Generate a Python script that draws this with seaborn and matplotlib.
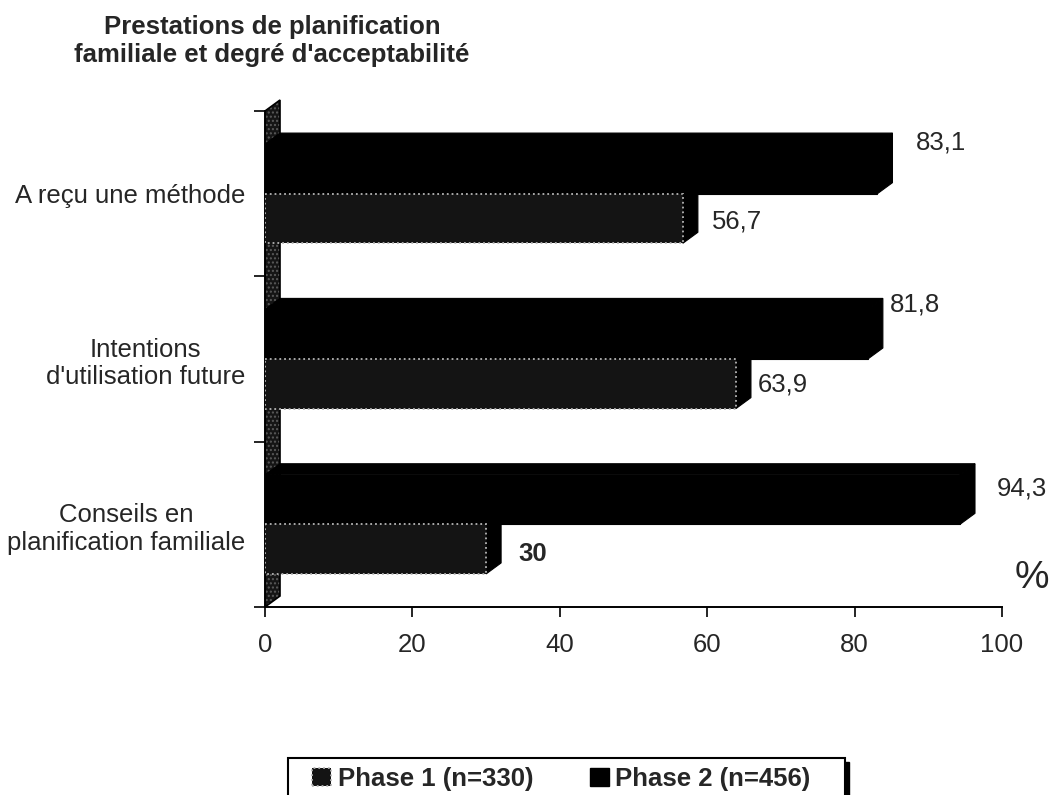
import matplotlib
matplotlib.use("Agg")
import matplotlib.pyplot as plt
from matplotlib.patches import Polygon, Patch, Rectangle
import numpy as np
import pandas as pd
import seaborn as sns

# Survey results (percent of respondents)
categories = ["A reçu une méthode",
              "Intentions\nd'utilisation future",
              "Conseils en\nplanification familiale"]
phase1_label = "Phase 1 (n=330)"
phase2_label = "Phase 2 (n=456)"
phase1_values = [56.7, 63.9, 30.0]
phase2_values = [83.1, 81.8, 94.3]
x_ticks = [0, 20, 40, 60, 80, 100]

df = pd.DataFrame({
    "categorie": categories * 2,
    "phase": [phase1_label] * 3 + [phase2_label] * 3,
    "valeur": phase1_values + phase2_values,
})

sns.set_theme(style="white")
plt.rcParams["font.family"] = ["Liberation Sans", "DejaVu Sans"]

FS = 18.5
W, H = 1052, 795
fig = plt.figure(figsize=(W / 100, H / 100), dpi=100)
ax = fig.add_axes([265 / W, 1 - 607 / H, 737 / W, (607 - 111) / H])

P1_FACE, P1_EDGE = "#141414", "#b5b5b5"
P2_FACE = "#000000"

sns.barplot(data=df, y="categorie", x="valeur", hue="phase",
            hue_order=[phase2_label, phase1_label], order=categories,
            palette={phase1_label: P1_FACE, phase2_label: P2_FACE},
            width=0.6, orient="h", legend=False, ax=ax, saturation=1,
            zorder=3)

ax.set_xlim(0, 100)
ax.set_ylim(2.5, -0.5)

# depth of the pseudo-3D extrusion, in data units
DX = 15 / 7.37
DY = 11 / 165.5

# side wall
wall = [(0, 2.5), (DX, 2.5 - DY), (DX, -0.5 - DY), (0, -0.5)]
ax.add_patch(Polygon(wall, closed=True, facecolor="#151515", edgecolor="#5a5a5a",
                     hatch="....", linewidth=0, zorder=1, clip_on=False))
ax.add_patch(Polygon(wall, closed=True, facecolor="none", edgecolor="black",
                     linewidth=1.2, zorder=1.5, clip_on=False))

phase2_bars = ax.containers[0]
phase1_bars = ax.containers[1]

for bar in phase1_bars:
    bar.set_edgecolor(P1_EDGE)
    bar.set_linestyle(":")
    bar.set_linewidth(1.3)
for bar in phase2_bars:
    bar.set_edgecolor("black")
    bar.set_linewidth(0.8)


def extrude(bar, z):
    w = bar.get_width()
    y0 = bar.get_y()
    y1 = y0 + bar.get_height()
    top = [(0, y0), (DX, y0 - DY), (w + DX, y0 - DY), (w, y0)]
    side = [(w, y0), (w + DX, y0 - DY), (w + DX, y1 - DY), (w, y1)]
    for poly in (top, side):
        ax.add_patch(Polygon(poly, closed=True, facecolor="black",
                             edgecolor="black", linewidth=0.8, zorder=z,
                             clip_on=False))


for bar in phase2_bars:
    bar.set_zorder(3)
    extrude(bar, 2.9)
for bar in phase1_bars:
    bar.set_zorder(4.1)
    extrude(bar, 4)


def fmt(v):
    return f"{v:g}".replace(".", ",")


# value labels: offsets in pixels (x right, y up) from the extruded bar end
p2_offsets = [(23, 26), (7, 30), (22, 11)]
p1_offsets = [(14, -3), (7, -1), (17, -5)]
p1_weights = ["normal", "normal", "bold"]

for bar, v, off in zip(phase2_bars, phase2_values, p2_offsets):
    yc = bar.get_y() + bar.get_height() / 2
    ax.annotate(fmt(v), xy=(v + DX, yc), xytext=off, textcoords="offset pixels",
                ha="left", va="center", fontsize=FS, annotation_clip=False)
for bar, v, off, wt in zip(phase1_bars, phase1_values, p1_offsets, p1_weights):
    yc = bar.get_y() + bar.get_height() / 2
    ax.annotate(fmt(v), xy=(v + DX, yc), xytext=off, textcoords="offset pixels",
                ha="left", va="center", fontsize=FS, fontweight=wt,
                annotation_clip=False)

# axes styling
for side in ("top", "right"):
    ax.spines[side].set_visible(False)
ax.spines["bottom"].set_color("black")
ax.spines["bottom"].set_linewidth(1.4)
ax.spines["left"].set_color("black")
ax.spines["left"].set_linewidth(1.2)

ax.set_xticks(x_ticks)
ax.set_xticklabels([str(t) for t in x_ticks], fontsize=FS)
ax.tick_params(axis="x", direction="out", length=7, width=1.2, color="black",
               bottom=True, pad=12)

ax.set_yticks([0, 1, 2])
ax.set_yticklabels(categories, fontsize=FS, multialignment="center")
ax.set_yticks([-0.5, 0.5, 1.5, 2.5], minor=True)
ax.tick_params(axis="y", which="major", length=0, pad=14)
ax.tick_params(axis="y", which="minor", direction="out", length=8, width=1.2,
               color="black", left=True)
ax.set_xlabel("")
ax.set_ylabel("")

fig.text(1032 / W, 1 - 578 / H, "%", fontsize=28, ha="center", va="center")

fig.text(272 / W, 1 - 41 / H,
         "Prestations de planification\nfamiliale et degré d'acceptabilité",
         fontsize=18.5, fontweight="bold", ha="center", va="center",
         multialignment="center", linespacing=1.2)

# legend box with a drop shadow on its right side
box_x0, box_x1, box_top = 288, 845, 758
fig.patches.append(Rectangle(((box_x0 + 4) / W, -0.05), (box_x1 - box_x0) / W,
                             1 - (box_top + 4) / H + 0.05,
                             transform=fig.transFigure, facecolor="black",
                             edgecolor="black", zorder=0))
fig.patches.append(Rectangle((box_x0 / W, -0.05), (box_x1 - box_x0) / W,
                             1 - box_top / H + 0.05,
                             transform=fig.transFigure, facecolor="white",
                             edgecolor="black", linewidth=1.5, zorder=1))

handles = [Patch(facecolor=P1_FACE, edgecolor=P1_EDGE, linestyle=":", linewidth=1.3),
           Patch(facecolor=P2_FACE, edgecolor="black")]
leg = fig.legend(handles, [phase1_label, phase2_label], ncol=2,
                 loc="center left", bbox_to_anchor=(312 / W, 1 - 779 / H),
                 frameon=False, prop={"weight": "bold", "size": 18.5},
                 handlelength=0.75, handleheight=0.75, handletextpad=0.25,
                 columnspacing=2.2, borderpad=0, borderaxespad=0)
leg.set_zorder(5)

fig.savefig("out.png", dpi=100, facecolor="white")
